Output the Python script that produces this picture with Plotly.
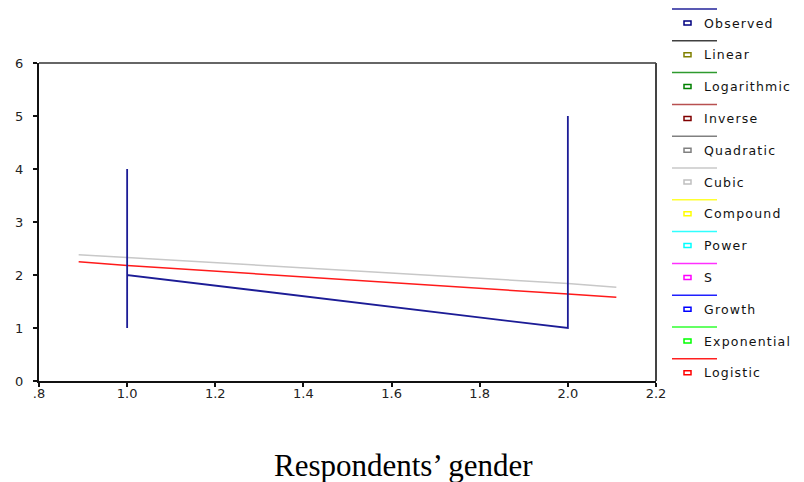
import plotly.graph_objects as go

# ---- data ----
obs_x = [1.0, 1.0, 1.0, 2.0, 2.0]
obs_y = [4.0, 1.0, 2.0, 1.0, 5.0]

fit_x = [0.89, 1.0, 2.0, 2.11]
cubic_y = [2.38, 2.33, 1.84, 1.77]
logistic_y = [2.25, 2.18, 1.64, 1.58]

x_ticks = [0.8, 1.0, 1.2, 1.4, 1.6, 1.8, 2.0, 2.2]
x_ticktext = [".8", "1.0", "1.2", "1.4", "1.6", "1.8", "2.0", "2.2"]
y_ticks = [0, 1, 2, 3, 4, 5, 6]
y_ticktext = ["0", "1", "2", "3", "4", "5", "6"]

legend_names = ["Observed", "Linear", "Logarithmic", "Inverse", "Quadratic", "Cubic",
                "Compound", "Power", "S", "Growth", "Exponential", "Logistic"]
legend_line_colors = ["#22229a", "#404040", "#2e9a2e", "#b85050", "#808080", "#c8c8c8",
                      "#ffff30", "#30ffff", "#ff30ff", "#2020ff", "#30ff30", "#ff2020"]
legend_marker_colors = ["#000080", "#808000", "#008000", "#800000", "#808080", "#c0c0c0",
                        "#ffff00", "#00ffff", "#ff00ff", "#0000ff", "#00ff00", "#ff0000"]

W, H = 804, 482
L, R, T, B = 39, 656, 63, 381

def spaced(s, sp):
    return '<span style="letter-spacing:%spx">%s</span>' % (sp, s)

fig = go.Figure()
fig.add_trace(go.Scatter(x=fit_x, y=cubic_y, mode="lines",
                         line=dict(color="#c8c8c8", width=1.5), showlegend=False))
fig.add_trace(go.Scatter(x=fit_x, y=logistic_y, mode="lines",
                         line=dict(color="#ff1a1a", width=1.5), showlegend=False))
fig.add_trace(go.Scatter(x=obs_x, y=obs_y, mode="lines",
                         line=dict(color="#1c1c96", width=1.8), showlegend=False))

def px_x(px):
    return (px - L) / (R - L)

def px_y(py):
    return (B - py) / (B - T)

shapes = []
annotations = []
# frame top and right
shapes.append(dict(type="line", xref="paper", yref="paper", x0=0, x1=1, y0=1, y1=1,
                   line=dict(color="#333333", width=1.5)))
shapes.append(dict(type="line", xref="paper", yref="paper", x0=1, x1=1, y0=0, y1=1,
                   line=dict(color="#444444", width=2)))

# custom legend
for i, name in enumerate(legend_names):
    line_y = 9 + i * 31.8
    text_y = 23 + i * 31.8
    shapes.append(dict(type="line", xref="paper", yref="paper",
                       x0=px_x(672), x1=px_x(717), y0=px_y(line_y), y1=px_y(line_y),
                       line=dict(color=legend_line_colors[i], width=1.5)))
    shapes.append(dict(type="rect", xref="paper", yref="paper",
                       x0=px_x(684), x1=px_x(691), y0=px_y(text_y - 2), y1=px_y(text_y + 2),
                       line=dict(color=legend_marker_colors[i], width=1.5),
                       fillcolor="white"))
    annotations.append(dict(text=spaced(name, 1.2), xref="paper", yref="paper",
                            x=px_x(702), y=px_y(text_y), xanchor="left", yanchor="middle",
                            showarrow=False,
                            font=dict(family="DejaVu Sans", size=12.5, color="#111111")))

annotations.append(dict(text="Respondents’ gender", xref="paper", yref="paper",
                        x=px_x(403), y=px_y(465), xanchor="center", yanchor="middle",
                        showarrow=False,
                        font=dict(family="Liberation Serif, Times New Roman", size=31, color="#000000")))

tickfont = dict(family="DejaVu Sans", size=13, color="#222222")

fig.update_layout(
    width=W, height=H,
    margin=dict(l=L, r=W - R, t=T, b=H - B, pad=0),
    paper_bgcolor="white", plot_bgcolor="white",
    shapes=shapes, annotations=annotations,
    showlegend=False,
    xaxis=dict(range=[0.8, 2.2], tickvals=x_ticks, ticktext=x_ticktext,
               showgrid=False, zeroline=False, showline=True, linecolor="#111111", linewidth=2,
               ticks="outside", ticklen=4, tickwidth=2, tickcolor="#111111",
               ticklabelstandoff=-5,
               tickfont=tickfont),
    yaxis=dict(range=[0, 6], tickvals=y_ticks, ticktext=y_ticktext,
               showgrid=False, zeroline=False, showline=True, linecolor="#111111", linewidth=2,
               ticks="outside", ticklen=4, tickwidth=2, tickcolor="#111111",
               ticklabelstandoff=7,
               tickfont=tickfont),
)

fig.write_html("out.html")
